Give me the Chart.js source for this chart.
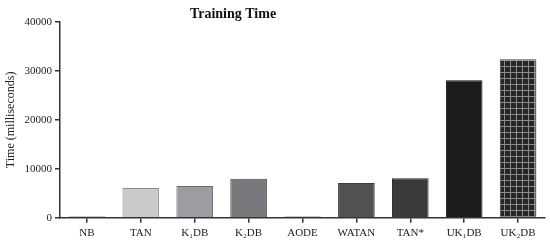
<!DOCTYPE html>
<html>
<head>
<meta charset="utf-8">
<script src="https://cdn.jsdelivr.net/npm/chart.js@4"></script>
<style>
  html, body { margin: 0; padding: 0; background: #fff; }
  #wrap { width: 550px; height: 245px; }
</style>
</head>
<body>
<div id="wrap"><canvas id="myChart"></canvas></div>
<script>
const categorias = ['NB', 'TAN', 'K\u2081DB', 'K\u2082DB', 'AODE', 'WATAN', 'TAN*', 'UK\u2081DB', 'UK\u2082DB'];
const tempos = [250, 6100, 6500, 8000, 250, 7100, 8100, 28100, 32400];
const yTicks = [0, 10000, 20000, 30000, 40000];

// padrão quadriculado da última barra
const grade = document.createElement('canvas');
grade.width = 6;
grade.height = 6;
const g = grade.getContext('2d');
g.fillStyle = '#262626';
g.fillRect(0, 0, 6, 6);
g.fillStyle = '#8a8a8a';
g.fillRect(0, 0, 6, 1);
g.fillRect(0, 0, 1, 6);

const ctx = document.getElementById('myChart').getContext('2d');
const padrao = ctx.createPattern(grade, 'repeat');

const cores = ['#1e1e1e', '#c9cacc', '#9b9da2', '#78797d', '#1e1e1e', '#515253', '#3a3a3b', '#1c1c1c', padrao];
const bordas = ['#1e1e1e', '#8a8b8d', '#6a6c70', '#4f5053', '#1e1e1e', '#3a3b3c', '#262627', '#111', '#444'];

const tituloPlugin = {
    id: 'tituloPlugin',
    afterDraw(chart) {
        const c = chart.ctx;
        c.save();
        c.font = 'bold 14px "Liberation Serif"';
        c.fillStyle = '#111';
        c.textAlign = 'center';
        c.textBaseline = 'middle';
        c.fillText('Training Time', 233, 14);
        c.restore();
    }
};

const serif = { family: '"Liberation Serif", serif', size: 11 };

new Chart(ctx, {
    type: 'bar',
    data: {
        labels: categorias,
        datasets: [{
            data: tempos,
            backgroundColor: cores,
            borderColor: bordas,
            borderWidth: 1,
            barPercentage: 0.68,
            categoryPercentage: 1.0
        }]
    },
    options: {
        responsive: true,
        maintainAspectRatio: false,
        animation: false,
        layout: { padding: { top: 22, right: 5, left: 4, bottom: 1 } },
        plugins: {
            legend: { display: false },
            tooltip: { enabled: false }
        },
        scales: {
            x: {
                offset: true,
                grid: { display: true, drawOnChartArea: false, drawTicks: true, tickLength: 5, offset: false, color: '#333', lineWidth: 1.5 },
                border: { display: true, color: '#333', width: 1.5 },
                ticks: { color: '#222', font: serif, padding: 4, maxRotation: 0, autoSkip: false }
            },
            y: {
                min: 0,
                max: 40000,
                afterFit(scale) { scale.width = 56; },
                afterBuildTicks(scale) { scale.ticks = yTicks.map(v => ({ value: v })); },
                grid: { display: true, drawOnChartArea: false, drawTicks: true, tickLength: 5, color: '#333', lineWidth: 1.5 },
                border: { display: true, color: '#333', width: 1.5 },
                ticks: { color: '#222', font: serif, padding: 3, callback: v => String(v) },
                title: { display: true, text: 'Time (milliseconds)', color: '#222', font: { family: '"Liberation Serif", serif', size: 12 }, padding: 0 }
            }
        }
    },
    plugins: [tituloPlugin]
});
</script>
</body>
</html>
